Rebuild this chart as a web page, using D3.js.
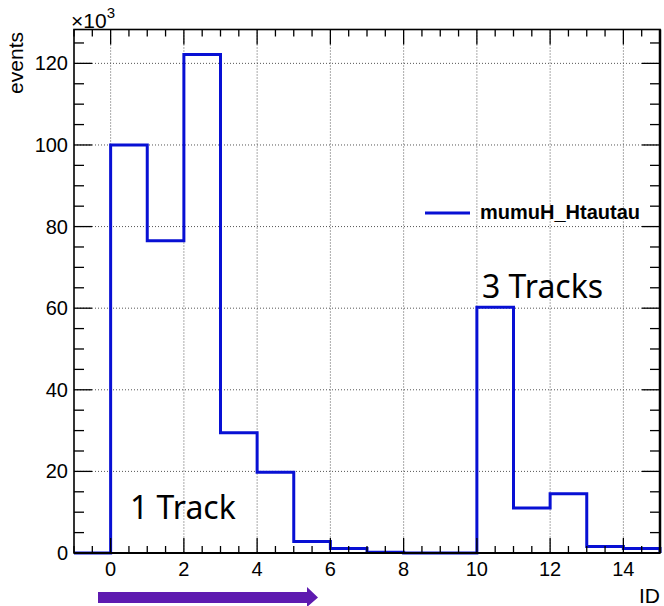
<!DOCTYPE html>
<html lang="en">
<head>
<meta charset="UTF-8">
<title>ID histogram</title>
<style>
    body { margin: 0; background: #fff; }
    .tick-label { font-family: "Liberation Sans", Arial, sans-serif; font-size: 20px; fill: #000; }
    .title { font-family: "Liberation Sans", Arial, sans-serif; font-size: 21px; fill: #000; }
    .note { font-family: "Noto Sans", "Open Sans", sans-serif; font-size: 32px; fill: #000; }
</style>
</head>
<body>
<svg width="664" height="606"></svg>
<script src="https://cdn.jsdelivr.net/npm/d3@7"></script>
<script>
    // bin edges (lower) and contents in units of 10^3 events
    const binLow = [-1, 0, 1, 2, 3, 4, 5, 6, 7, 8, 9, 10, 11, 12, 13, 14];
    const counts = [0, 100, 76.5, 122.2, 29.5, 19.8, 2.8, 1.1, 0.2, 0, 0, 60.2, 11, 14.5, 1.6, 1.1];
    const xTicks = [0, 2, 4, 6, 8, 10, 12, 14];
    const yTicks = [0, 20, 40, 60, 80, 100, 120];
    const seriesName = "mumuH_Htautau";

    const svg = d3.select("svg");
    const padL = 74, padR = 660, padT = 29.5, padB = 553;
    const blue = "#0810d4";

    const x = d3.scaleLinear().domain([-1, 15]).range([padL, padR]);
    const y = d3.scaleLinear().domain([0, 128.3]).range([padB, padT]);

    // dotted grid
    const grid = svg.append("g").attr("stroke", "#555").attr("stroke-width", 1)
        .attr("stroke-dasharray", "1,2");
    grid.selectAll(".gx").data(xTicks).enter().append("line")
        .attr("x1", d => x(d)).attr("x2", d => x(d)).attr("y1", padT).attr("y2", padB);
    grid.selectAll(".gy").data(yTicks.filter(d => d > 0)).enter().append("line")
        .attr("y1", d => y(d)).attr("y2", d => y(d)).attr("x1", padL).attr("x2", padR);

    // histogram outline
    let pts = [[x(-1), y(0)]];
    binLow.forEach((b, i) => {
        pts.push([x(b), y(counts[i])]);
        pts.push([x(b + 1), y(counts[i])]);
    });
    pts.push([x(15), y(0)]);
    svg.append("path")
        .attr("d", d3.line()(pts))
        .attr("fill", "none")
        .attr("stroke", blue)
        .attr("stroke-width", 3);

    // frame and ticks (ROOT style, ticks inside on all sides)
    const axes = svg.append("g").attr("stroke", "#000").attr("stroke-width", 1.3);
    axes.append("rect").attr("x", padL).attr("y", padT)
        .attr("width", padR - padL).attr("height", padB - padT)
        .attr("fill", "none").attr("stroke-width", 1.6);
    axes.append("line").attr("x1", padR).attr("x2", padR).attr("y1", padT).attr("y2", padB)
        .attr("stroke-width", 2.5);
    axes.append("line").attr("x1", padL).attr("x2", padR).attr("y1", padB).attr("y2", padB)
        .attr("stroke-width", 2);

    const xMinor = d3.range(-1, 15.01, 0.5);
    xMinor.forEach(v => {
        const major = Math.abs(v % 2) < 1e-6;
        const len = major ? 15 : 7;
        axes.append("line").attr("x1", x(v)).attr("x2", x(v)).attr("y1", padB).attr("y2", padB - len);
        axes.append("line").attr("x1", x(v)).attr("x2", x(v)).attr("y1", padT).attr("y2", padT + len);
    });
    const yMinor = d3.range(0, 128.3, 5);
    yMinor.forEach(v => {
        const major = v % 20 === 0;
        const len = major ? 18 : 10;
        axes.append("line").attr("y1", y(v)).attr("y2", y(v)).attr("x1", padL).attr("x2", padL + len);
        axes.append("line").attr("y1", y(v)).attr("y2", y(v)).attr("x1", padR).attr("x2", padR - len);
    });

    // tick labels
    svg.selectAll(".xl").data(xTicks).enter().append("text")
        .attr("class", "tick-label")
        .attr("x", d => x(d)).attr("y", 576)
        .attr("text-anchor", "middle")
        .text(d => d);
    svg.selectAll(".yl").data(yTicks).enter().append("text")
        .attr("class", "tick-label")
        .attr("x", 68).attr("y", d => y(d) + 7)
        .attr("text-anchor", "end")
        .text(d => d);

    // exponent
    const ex = svg.append("text").attr("class", "title").attr("x", 71).attr("y", 28);
    ex.append("tspan").text("\u00d710");
    ex.append("tspan").attr("dy", -10).attr("font-size", 15).text("3");

    // axis titles
    svg.append("text").attr("class", "title").attr("font-size", 22)
        .attr("transform", "translate(23,32) rotate(-90)")
        .attr("text-anchor", "end").text("events");
    svg.append("text").attr("class", "title")
        .attr("x", 660).attr("y", 603).attr("text-anchor", "end").text("ID");

    // legend
    svg.append("line").attr("x1", 425).attr("x2", 470).attr("y1", 213).attr("y2", 213)
        .attr("stroke", blue).attr("stroke-width", 3);
    svg.append("text").attr("x", 480).attr("y", 219)
        .attr("font-family", "Liberation Sans, Arial, sans-serif")
        .attr("font-weight", "bold").attr("font-size", 20)
        .text(seriesName);

    // annotations
    svg.append("text").attr("class", "note").attr("x", 482).attr("y", 298).text("3 Tracks");
    svg.append("text").attr("class", "note").attr("x", 130).attr("y", 519).text("1 Track");

    // purple arrow
    svg.append("path")
        .attr("d", "M98,592 L307,592 L307,587 L318,597.5 L307,607 L307,603 L98,603 Z")
        .attr("fill", "#5e1ab0");
</script>
</body>
</html>
